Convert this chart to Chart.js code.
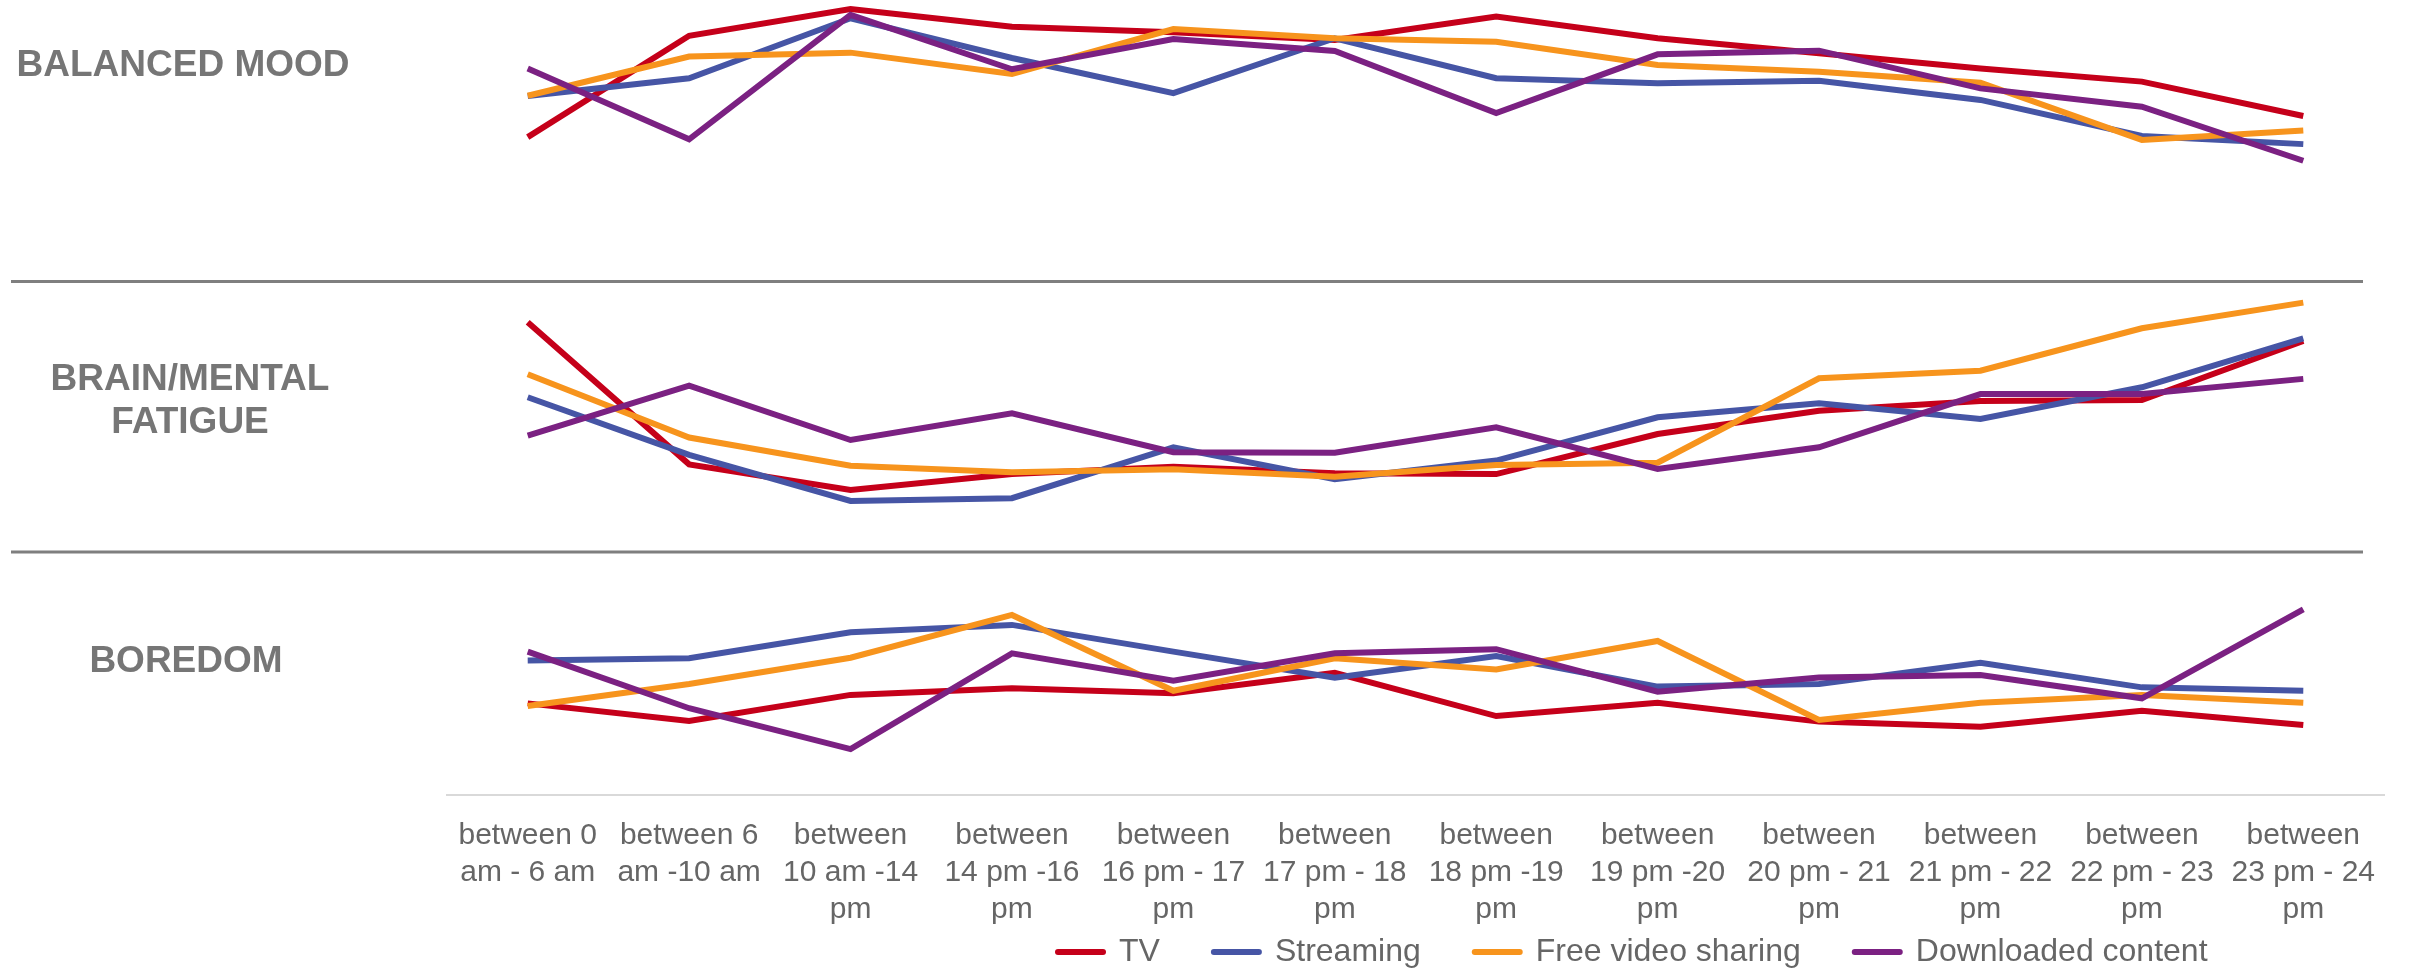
<!DOCTYPE html>
<html>
<head>
<meta charset="utf-8">
<title>Mood, fatigue and boredom by time of day</title>
<script src="https://cdn.jsdelivr.net/npm/chart.js@4/dist/chart.umd.min.js"></script>
<style>
  html, body { margin: 0; padding: 0; background: #ffffff; }
  #wrap { width: 2410px; height: 970px; }
</style>
</head>
<body>
<div id="wrap"><canvas id="chart" width="2410" height="970"></canvas></div>
<script>
// Time slots (x axis), each split into the lines shown under the axis
const timeSlots = [
  ['between 0', 'am - 6 am'],
  ['between 6', 'am -10 am'],
  ['between', '10 am -14', 'pm'],
  ['between', '14 pm -16', 'pm'],
  ['between', '16 pm - 17', 'pm'],
  ['between', '17 pm - 18', 'pm'],
  ['between', '18 pm -19', 'pm'],
  ['between', '19 pm -20', 'pm'],
  ['between', '20 pm - 21', 'pm'],
  ['between', '21 pm - 22', 'pm'],
  ['between', '22 pm - 23', 'pm'],
  ['between', '23 pm - 24', 'pm']
];

const mediaTypes = ['TV', 'Streaming', 'Free video sharing', 'Downloaded content'];
const panelTitles = [['BALANCED MOOD'], ['BRAIN/MENTAL', 'FATIGUE'], ['BOREDOM']];

// Balanced mood index (0-100 within its panel)
const tvMood        = [51.3, 87.3, 96.8, 90.5, 88.5, 85.8, 94.1, 86.4, 81.1, 75.7, 71.0, 58.8];
const streamingMood = [65.9, 72.2, 93.5, 79.4, 66.9, 86.4, 72.2, 70.4, 71.3, 64.5, 51.7, 48.8];
const freeVideoMood = [66.0, 79.9, 81.3, 73.7, 89.7, 86.4, 85.2, 76.9, 74.5, 70.6, 50.3, 53.6];
const downloadMood  = [75.7, 50.5, 94.7, 75.4, 86.1, 81.9, 59.8, 80.7, 82.0, 68.6, 62.1, 42.9];

// Brain / mental fatigue index
const tvFatigue        = [84.9, 32.4, 22.9, 28.8, 31.5, 29.1, 28.8, 43.6, 52.2, 55.8, 56.2, 78.0];
const streamingFatigue = [57.2, 35.9, 18.9, 19.9, 38.7, 26.9, 33.8, 49.8, 55.0, 49.2, 60.9, 79.0];
const freeVideoFatigue = [65.7, 42.3, 31.9, 29.5, 30.6, 27.8, 32.2, 33.0, 64.2, 67.0, 82.7, 92.2];
const downloadFatigue  = [43.0, 61.5, 41.4, 51.3, 36.9, 36.7, 46.1, 30.7, 38.7, 58.4, 58.4, 64.0];

// Boredom index
const tvBoredom        = [37.7, 30.5, 41.2, 43.9, 41.9, 50.3, 32.5, 38.0, 30.2, 28.1, 34.7, 28.8];
const streamingBoredom = [55.3, 56.3, 67.0, 70.0, 59.0, 48.3, 57.2, 44.6, 45.7, 54.4, 44.3, 42.9];
const freeVideoBoredom = [36.6, 45.7, 56.5, 74.1, 42.9, 56.3, 51.7, 63.4, 30.9, 38.0, 41.2, 38.0];
const downloadBoredom  = [59.0, 35.7, 18.9, 58.3, 47.0, 58.3, 60.0, 42.5, 48.4, 49.4, 39.8, 76.4];

const panelSeries = [
  [tvMood, streamingMood, freeVideoMood, downloadMood],
  [tvFatigue, streamingFatigue, freeVideoFatigue, downloadFatigue],
  [tvBoredom, streamingBoredom, freeVideoBoredom, downloadBoredom]
];

const seriesColors = ['#C5001A', '#4655A5', '#F7941D', '#7B2182'];
const panelAxes = ['yMood', 'yFatigue', 'yBoredom'];   // top to bottom
const FONT = '"Liberation Sans", Arial, Helvetica, sans-serif';

const datasets = [];
panelSeries.forEach((series, p) => {
  series.forEach((values, s) => {
    datasets.push({
      label: mediaTypes[s],
      data: values,
      yAxisID: panelAxes[p],
      order: series.length - s,          // later media types are painted over earlier ones
      borderColor: seriesColors[s],
      backgroundColor: seriesColors[s],
      pointBorderColor: seriesColors[s],
      pointBackgroundColor: seriesColors[s],
      borderWidth: 6,
      pointBorderWidth: 6,
      pointRadius: 0,
      pointHoverRadius: 0,
      tension: 0,
      borderJoinStyle: 'miter',
      fill: false
    });
  });
});

// Separator rules and row titles for the three panels
const panelDecor = {
  id: 'panelDecor',
  beforeDatasetsDraw(chart, args, opts) {
    const ctx = chart.ctx;
    ctx.save();
    ctx.strokeStyle = opts.ruleColor;
    ctx.lineWidth = opts.ruleWidth;
    panelAxes.slice(0, -1).forEach((id) => {
      const y = chart.scales[id].bottom;
      ctx.beginPath();
      ctx.moveTo(opts.ruleStart, y);
      ctx.lineTo(opts.ruleEnd, y);
      ctx.stroke();
    });
    ctx.fillStyle = opts.titleColor;
    ctx.font = 'bold ' + opts.titleSize + 'px ' + FONT;
    ctx.textAlign = 'center';
    ctx.textBaseline = 'middle';
    panelTitles.forEach((lines, p) => {
      const sc = chart.scales[panelAxes[p]];
      const cy = sc.top + (sc.bottom - sc.top) * opts.titleY[p];
      const y0 = cy - (lines.length - 1) * opts.titleLineHeight / 2;
      lines.forEach((line, i) => {
        ctx.fillText(line, opts.titleX[p], y0 + i * opts.titleLineHeight);
      });
    });
    ctx.restore();
  }
};

// Places the legend row under the axis labels (its box also bounds the legend's clip)
const legendPlacement = {
  id: 'legendPlacement',
  afterLayout(chart, args, opts) {
    const lg = chart.legend;
    if (!lg) return;
    const dx = opts.left - lg.left;
    lg.left += dx;
    lg.right += dx;
    lg.top = opts.top;
    lg.height = opts.height;
    lg.bottom = opts.top + opts.height;
  }
};

const defaultLabels = Chart.defaults.plugins.legend.labels.generateLabels;

new Chart(document.getElementById('chart'), {
  type: 'line',
  data: { labels: timeSlots, datasets },
  plugins: [panelDecor, legendPlacement],
  options: {
    responsive: false,
    devicePixelRatio: 1,
    animation: false,
    events: [],
    layout: { padding: { left: 447, right: 26, top: 0, bottom: 0 } },
    scales: {
      x: {
        type: 'category',
        offset: true,
        grid: { display: false, drawTicks: false },
        border: { display: true, color: '#D9D9D9', width: 2 },
        ticks: {
          color: '#666666',
          font: { family: FONT, size: 30, lineHeight: 1.23 },
          padding: 22,
          maxRotation: 0,
          minRotation: 0,
          autoSkip: false
        },
        afterFit(scale) { scale.height = 140; }
      },
      // stacked panels are laid out bottom-up in definition order
      yBoredom: { type: 'linear', position: 'left', stack: 'panels', stackWeight: 243,   min: 0, max: 100, display: false },
      yFatigue: { type: 'linear', position: 'left', stack: 'panels', stackWeight: 270.5, min: 0, max: 100, display: false },
      yMood:    { type: 'linear', position: 'left', stack: 'panels', stackWeight: 281.5, min: 0, max: 100, display: false }
    },
    plugins: {
      tooltip: { enabled: false },
      legend: {
        position: 'bottom',
        align: 'start',
        maxHeight: 35,
        labels: {
          usePointStyle: true,
          pointStyle: 'line',
          pointStyleWidth: 45,
          padding: 54,
          color: '#666666',
          font: { family: FONT, size: 32 },
          generateLabels(chart) {
            return defaultLabels(chart)
              .filter((item) => item.datasetIndex < mediaTypes.length)
              .sort((a, b) => a.datasetIndex - b.datasetIndex)
              .map((item) => Object.assign(item, { lineCap: 'round', lineWidth: 6 }));
          }
        }
      },
      legendPlacement: { left: 1004, top: 882, height: 88 },
      panelDecor: {
        ruleColor: '#7F7F7F',
        ruleWidth: 3,
        ruleStart: 11,
        ruleEnd: 2363,
        titleColor: '#767676',
        titleSize: 37,
        titleLineHeight: 43,
        titleX: [183, 190, 186],
        titleY: [0.233, 0.444, 0.451]
      }
    }
  }
});
</script>
</body>
</html>
